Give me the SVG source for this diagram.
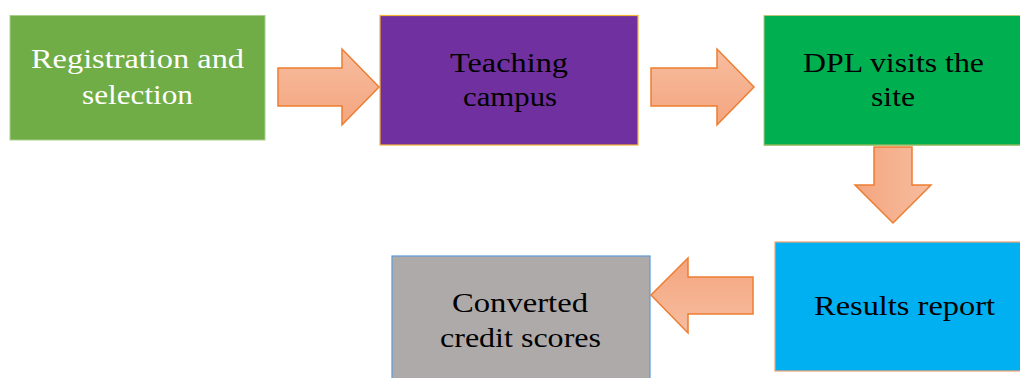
<svg xmlns="http://www.w3.org/2000/svg" width="1020" height="378" viewBox="0 0 1020 378">
  <style>
    .lbl { font-family: "Liberation Serif", "DejaVu Serif", serif; font-size: 28px; text-anchor: middle; fill: #000000; }
    .white { fill: #ffffff; }
    .arrow { stroke: #ED7D31; stroke-width: 1.5; stroke-linejoin: miter; }
  </style>
  <defs>
    <!-- block-arrow shading: lighter on the arrow's "upper" side -->
    <linearGradient id="gRight" x1="0" y1="0" x2="0" y2="1">
      <stop offset="0" stop-color="#F7BDA0"/>
      <stop offset="1" stop-color="#F4A57E"/>
    </linearGradient>
    <linearGradient id="gDown" x1="1" y1="0" x2="0" y2="0">
      <stop offset="0" stop-color="#F7BDA0"/>
      <stop offset="1" stop-color="#F4A57E"/>
    </linearGradient>
    <linearGradient id="gLeft" x1="0" y1="1" x2="0" y2="0">
      <stop offset="0" stop-color="#F7BDA0"/>
      <stop offset="1" stop-color="#F4A57E"/>
    </linearGradient>
  </defs>

  <g id="node-registration">
    <rect x="10" y="15.5" width="255" height="124.5" fill="#70AD47" stroke="#A9D18E" stroke-width="1"/>
    <text class="lbl white" x="137.5" y="68" textLength="213" lengthAdjust="spacingAndGlyphs">Registration and</text>
    <text class="lbl white" x="137.5" y="104" textLength="111" lengthAdjust="spacingAndGlyphs">selection</text>
  </g>

  <g id="node-teaching">
    <rect x="380" y="15.5" width="258" height="129.5" fill="#7030A0" stroke="#F5B335" stroke-width="1.2"/>
    <text class="lbl" x="509" y="72" textLength="118" lengthAdjust="spacingAndGlyphs">Teaching</text>
    <text class="lbl" x="510" y="106" textLength="94" lengthAdjust="spacingAndGlyphs">campus</text>
  </g>

  <g id="node-dpl">
    <rect x="764" y="15.5" width="262" height="129.5" fill="#00B050" stroke="#B7C77E" stroke-width="1"/>
    <line x1="764" y1="145" x2="1020" y2="145" stroke="#70AD47" stroke-width="1.2"/>
    <text class="lbl" x="893.5" y="72" textLength="181" lengthAdjust="spacingAndGlyphs">DPL visits the</text>
    <text class="lbl" x="893" y="106" textLength="44" lengthAdjust="spacingAndGlyphs">site</text>
  </g>

  <g id="node-results">
    <rect x="775" y="242" width="251" height="129" fill="#00B0F0" stroke="#F4A36E" stroke-width="1.2"/>
    <text class="lbl" x="904.5" y="315" textLength="181" lengthAdjust="spacingAndGlyphs">Results report</text>
  </g>

  <g id="node-credits">
    <rect x="392" y="256" width="258" height="130" fill="#AEAAAA" stroke="#5B9BD5" stroke-width="1.2"/>
    <text class="lbl" x="520" y="312" textLength="136" lengthAdjust="spacingAndGlyphs">Converted</text>
    <text class="lbl" x="520.5" y="347" textLength="161" lengthAdjust="spacingAndGlyphs">credit scores</text>
  </g>

  <g id="connectors">
    <!-- registration -> teaching -->
    <polygon class="arrow" fill="url(#gRight)" points="278,68 342,68 342,49 379,87 342,125 342,106 278,106"/>
    <!-- teaching -> dpl -->
    <polygon class="arrow" fill="url(#gRight)" points="651,68 717,68 717,49 754,87 717,125 717,106 651,106"/>
    <!-- dpl -> results -->
    <polygon class="arrow" fill="url(#gDown)" points="874,147 912,147 912,185 931,185 893,223 855,185 874,185"/>
    <!-- results -> credits -->
    <polygon class="arrow" fill="url(#gLeft)" points="753,277 688,277 688,258 651,295 688,333 688,314 753,314"/>
  </g>
</svg>
